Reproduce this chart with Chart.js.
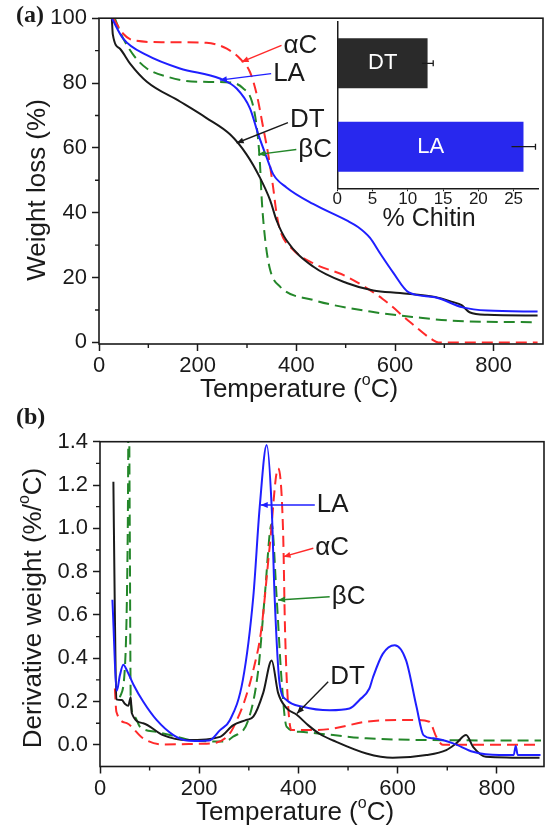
<!DOCTYPE html>
<html>
<head>
<meta charset="utf-8">
<script src="https://cdn.jsdelivr.net/npm/chart.js@4/dist/chart.umd.min.js"></script>
<style>
  body { margin: 0; background: #fff; }
  #wrap { position: relative; width: 546px; height: 828px; overflow: hidden; }
  canvas { position: absolute; }
</style>
</head>
<body>
<div id="wrap">
  <canvas id="tga" width="546" height="410" style="left:0;top:0"></canvas>
  <canvas id="dtg" width="546" height="428" style="left:0;top:400px"></canvas>
  <canvas id="inset" width="246" height="230" style="left:300px;top:10px"></canvas>
</div>
<script>
const FONT = "'Liberation Sans', Arial, sans-serif";
const INK = '#1a1a1a';
const BLUE = '#1f1fff', RED = '#ff2a2a', GREEN = '#24872a';

// (a) weight loss (%) vs temperature
const tgaLA_T = [26,49,97,164,245,279,306,323,340,353,380,434,502,525,549,570,596,628,681,737,787,889];
const tgaLA_W = [100,93.7,88.6,84.5,81.4,78.3,72.2,64.1,57,51.9,47.8,42.7,37.6,35.6,32.3,27.4,21.6,15.4,13.9,10.8,9.8,9.5];
const tgaDT_T = [26,28,43,63,97,164,218,266,299,326,347,360,380,434,502,556,610,681,716,735,751,787,889];
const tgaDT_W = [100,95,90.5,86,80.4,74.3,69.2,64.1,58,50.9,43.8,37.6,31.5,23.4,18.3,16,15.2,14,12.5,11.5,9.3,8.5,8.3];
const tgaAC_T = [29,49,69,130,218,259,286,306,320,333,343,353,360,367,394,434,502,575,631,674,688,889];
const tgaAC_W = [100,95.2,93.2,92.6,92.4,90.6,87.5,83.4,76.3,66.1,58,47.8,39.7,34.6,28.5,24.4,20.3,13.4,6.2,1,0,0];
const tgaBC_T = [32,46,70,97,137,198,265,292,310,320,326,330,337,347,367,434,550,645,716,889];
const tgaBC_W = [100,94.7,88.6,84.5,82,80.4,80.2,78.4,74.3,66.1,55.9,43.8,31.5,22.3,17.2,13.1,9.5,7.7,6.7,6.2];

// (b) derivative weight (%/oC) vs temperature
const dtgLA_T = [25,34,40,47,55,67,87,114,148,175,200,220,242,262,288,309,322,336,346,352,362,376,409,463,503,523,543,550,570,594,617,638,652,672,712,752,805,834,838,842,888];
const dtgLA_D = [0.67,0.25,0.32,0.37,0.34,0.28,0.2,0.115,0.045,0.02,0.018,0.02,0.068,0.115,0.3,0.684,1.1,1.385,1.1,0.684,0.284,0.207,0.176,0.16,0.168,0.207,0.26,0.31,0.42,0.46,0.39,0.176,0.045,0.03,0.007,-0.032,-0.047,-0.047,-0.005,-0.047,-0.047];
const dtgDT_T = [27,30,33,44,50,57,62,64,87,127,175,242,268,295,309,329,346,359,376,396,420,443,470,537,590,658,698,718,738,752,778,886];
const dtgDT_D = [1.215,0.6,0.21,0.207,0.19,0.18,0.22,0.147,0.1,0.045,0.022,0.037,0.09,0.115,0.13,0.24,0.39,0.24,0.17,0.14,0.09,0.05,0.02,-0.04,-0.06,-0.047,-0.024,0.007,0.045,-0.009,-0.055,-0.06];
const dtgAC_T = [30,33,54,87,127,200,234,262,276,291,309,325,342,359,369,373,379,386,423,470,537,631,664,678,691,889];
const dtgAC_D = [0.26,0.153,0.1,0.03,0.002,0.005,0.01,0.054,0.115,0.2,0.345,0.53,0.915,1.277,0.99,0.53,0.19,0.068,0.068,0.075,0.107,0.115,0.107,0.037,0,0];
const dtgBC_T = [40,50,56,58,60,62,70,80,114,150,180,250,268,299,319,332,346,356,366,376,403,470,537,671,889];
const dtgBC_D = [0.22,0.35,1.0,1.7,1.0,0.2,0.13,0.085,0.06,0.04,0.023,0.015,0.037,0.115,0.345,0.684,1.02,0.684,0.3,0.084,0.06,0.045,0.03,0.022,0.02];

// inset: % chitin
const insetCats = ['DT', 'LA'];
const insetChitin = [12.8, 26.4];
const insetErr = [0.8, 1.7];

// tick labels
const tempTicks = [0, 200, 400, 600, 800];
const tempMinor = [100, 300, 500, 700];
const weightTicks = [0, 20, 40, 60, 80, 100];
const weightMinor = [10, 30, 50, 70, 90];
const derivTicks = [0, 0.2, 0.4, 0.6, 0.8, 1.0, 1.2, 1.4];
const derivMinor = [0.1, 0.3, 0.5, 0.7, 0.9, 1.1, 1.3];
const chitinTicks = [0, 5, 10, 15, 20, 25];

const tempTitle = [{t: 'Temperature ('}, {t: 'o', sup: true}, {t: 'C)'}];
const weightTitle = [{t: 'Weight loss (%)'}];
const derivTitle = [{t: 'Derivative weight (%/'}, {t: 'o', sup: true}, {t: 'C)'}];

// labels with arrows: text at / arrow tip, in data units
const tgaNotes = [
  {text: '\u03b1C', at: [374, 91.6], tip: [289, 86.5], color: RED},
  {text: 'LA', at: [353, 82.9], tip: [245, 80.9], color: BLUE},
  {text: 'DT', at: [387, 68.7], tip: [279, 61.5], color: INK, dy: 3},
  {text: '\u03b2C', at: [404, 59.5], tip: [323, 58], color: GREEN}
];
const dtgNotes = [
  {text: 'LA', at: [437, 1.108], tip: [324, 1.108], color: BLUE},
  {text: '\u03b1C', at: [434, 0.908], tip: [370, 0.869], color: RED},
  {text: '\u03b2C', at: [467, 0.684], tip: [359, 0.669], color: GREEN},
  {text: 'DT', at: [464, 0.315], tip: [397, 0.145], color: INK, dy: 5}
];

const pts = (xs, ys) => xs.map((x, i) => ({x: x, y: ys[i]}));

function drawParts(ctx, parts, cx, cy, size, rot) {
  ctx.save();
  ctx.translate(cx, cy);
  if (rot) ctx.rotate(-Math.PI / 2);
  const main = size + 'px ' + FONT, sup = Math.round(size * 0.6) + 'px ' + FONT;
  let w = 0;
  parts.forEach(p => { ctx.font = p.sup ? sup : main; w += ctx.measureText(p.t).width; });
  let xx = -w / 2;
  ctx.fillStyle = INK; ctx.textBaseline = 'middle'; ctx.textAlign = 'left';
  parts.forEach(p => {
    ctx.font = p.sup ? sup : main;
    ctx.fillText(p.t, xx, p.sup ? -size * 0.38 : 0);
    xx += ctx.measureText(p.t).width;
  });
  ctx.restore();
}

// frame, minor ticks, titles, panel letter
const decor = {
  id: 'decor',
  afterDraw(chart, args, o) {
    const {ctx, chartArea: a, scales: {x, y}} = chart;
    ctx.save();
    ctx.strokeStyle = INK;
    ctx.lineWidth = 1.6;
    ctx.strokeRect(a.left, a.top, a.right - a.left, a.bottom - a.top);
    ctx.lineWidth = 1.4;
    ctx.beginPath();
    o.xMinor.forEach(v => { const p = x.getPixelForValue(v); ctx.moveTo(p, a.bottom); ctx.lineTo(p, a.bottom + 4); });
    o.yMinor.forEach(v => { const p = y.getPixelForValue(v); ctx.moveTo(a.left, p); ctx.lineTo(a.left - 4, p); });
    ctx.stroke();
    drawParts(ctx, o.xTitle, o.xTitlePos[0], o.xTitlePos[1], 26, false);
    drawParts(ctx, o.yTitle, o.yTitlePos[0], o.yTitlePos[1], 26, true);
    ctx.font = "bold 24px 'Liberation Serif', 'Times New Roman', serif";
    ctx.fillStyle = INK; ctx.textAlign = 'left'; ctx.textBaseline = 'middle';
    ctx.fillText(o.panel, o.panelPos[0], o.panelPos[1]);
    ctx.restore();
  }
};

const notes = {
  id: 'notes',
  afterDatasetsDraw(chart, args, o) {
    const {ctx, scales: {x, y}} = chart;
    ctx.save();
    o.items.forEach(n => {
      const tx = x.getPixelForValue(n.at[0]), ty = y.getPixelForValue(n.at[1]);
      const px = x.getPixelForValue(n.tip[0]), py = y.getPixelForValue(n.tip[1]);
      ctx.font = '26px ' + FONT; ctx.fillStyle = INK;
      ctx.textAlign = 'left'; ctx.textBaseline = 'middle';
      ctx.fillText(n.text, tx, ty);
      const sx = tx - 2, sy = ty + (n.dy || 0);
      ctx.strokeStyle = n.color; ctx.lineWidth = 1.4;
      ctx.beginPath(); ctx.moveTo(sx, sy); ctx.lineTo(px, py); ctx.stroke();
      const ang = Math.atan2(py - sy, px - sx), c = Math.cos(ang), s = Math.sin(ang);
      ctx.fillStyle = n.color;
      ctx.beginPath();
      ctx.moveTo(px, py);
      ctx.lineTo(px - 7 * c + 3 * s, py - 7 * s - 3 * c);
      ctx.lineTo(px - 7 * c - 3 * s, py - 7 * s + 3 * c);
      ctx.closePath(); ctx.fill();
    });
    ctx.restore();
  }
};

function line(label, data, color, dashed) {
  return {
    label: label, data: data, borderColor: color, borderWidth: 2,
    borderDash: dashed ? [11, 6] : [], pointRadius: 0,
    cubicInterpolationMode: 'monotone', fill: false
  };
}

function axes(xMax, yMin, yMax, yTicks, yFmt, yWidth, xHeight) {
  const tickFont = {family: FONT, size: 22};
  return {
    x: {
      type: 'linear', min: 0, max: xMax,
      afterBuildTicks: s => { s.ticks = tempTicks.map(v => ({value: v})); },
      afterFit: s => { s.height = xHeight; },
      grid: {drawOnChartArea: false, drawTicks: true, tickLength: 7, tickColor: INK, tickWidth: 1.5},
      border: {display: false},
      ticks: {font: tickFont, color: INK, padding: 2, maxRotation: 0, autoSkip: false}
    },
    y: {
      type: 'linear', min: yMin, max: yMax,
      afterBuildTicks: s => { s.ticks = yTicks.map(v => ({value: v})); },
      afterFit: s => { s.width = yWidth; },
      grid: {drawOnChartArea: false, drawTicks: true, tickLength: 7, tickColor: INK, tickWidth: 1.5},
      border: {display: false},
      ticks: {font: tickFont, color: INK, padding: 5, callback: yFmt}
    }
  };
}

new Chart(document.getElementById('tga'), {
  type: 'line',
  data: {datasets: [
    line('LA', pts(tgaLA_T, tgaLA_W), BLUE, false),
    line('DT', pts(tgaDT_T, tgaDT_W), INK, false),
    line('\u03b1C', pts(tgaAC_T, tgaAC_W), RED, true),
    line('\u03b2C', pts(tgaBC_T, tgaBC_W), GREEN, true)
  ]},
  options: {
    responsive: false, animation: false, devicePixelRatio: 1, events: [],
    layout: {padding: {left: 0, right: 3, top: 16, bottom: 0}},
    scales: axes(900, -0.5, 100, weightTicks, v => String(v), 99, 66),
    plugins: {
      legend: {display: false}, tooltip: {enabled: false},
      decor: {xMinor: tempMinor, yMinor: weightMinor, xTitle: tempTitle, xTitlePos: [299, 390],
              yTitle: weightTitle, yTitlePos: [38, 190], panel: '(a)', panelPos: [16, 16]},
      notes: {items: tgaNotes}
    }
  },
  plugins: [decor, notes]
});

new Chart(document.getElementById('dtg'), {
  type: 'line',
  data: {datasets: [
    line('LA', pts(dtgLA_T, dtgLA_D), BLUE, false),
    line('DT', pts(dtgDT_T, dtgDT_D), INK, false),
    line('\u03b1C', pts(dtgAC_T, dtgAC_D), RED, true),
    line('\u03b2C', pts(dtgBC_T, dtgBC_D), GREEN, true)
  ]},
  options: {
    responsive: false, animation: false, devicePixelRatio: 1, events: [],
    layout: {padding: {left: 0, right: 2, top: 41.7, bottom: 0}},
    scales: axes(895, -0.1, 1.4, derivTicks, v => v.toFixed(1), 100, 61.5),
    plugins: {
      legend: {display: false}, tooltip: {enabled: false},
      decor: {xMinor: tempMinor, yMinor: derivMinor, xTitle: tempTitle, xTitlePos: [295, 413],
              yTitle: derivTitle, yTitlePos: [34, 208], panel: '(b)', panelPos: [16, 18]},
      notes: {items: dtgNotes}
    }
  },
  plugins: [decor, notes]
});

const errBars = {
  id: 'errBars',
  afterDatasetsDraw(chart) {
    const {ctx, scales: {x}} = chart;
    ctx.save();
    chart.getDatasetMeta(0).data.forEach((bar, i) => {
      const x1 = x.getPixelForValue(insetChitin[i] - insetErr[i]);
      const x2 = x.getPixelForValue(insetChitin[i] + insetErr[i]);
      ctx.strokeStyle = INK; ctx.lineWidth = 1.3;
      ctx.beginPath();
      ctx.moveTo(x1, bar.y); ctx.lineTo(x2, bar.y);
      ctx.moveTo(x2, bar.y - 3); ctx.lineTo(x2, bar.y + 3);
      ctx.stroke();
      ctx.fillStyle = '#fff'; ctx.font = '22px ' + FONT;
      ctx.textAlign = 'center'; ctx.textBaseline = 'middle';
      ctx.fillText(insetCats[i], (bar.base + bar.x) / 2, bar.y);
    });
    ctx.fillStyle = INK; ctx.font = '25px ' + FONT;
    ctx.textAlign = 'center'; ctx.textBaseline = 'middle';
    ctx.fillText('% Chitin', 129, 209);
    ctx.restore();
  }
};

new Chart(document.getElementById('inset'), {
  type: 'bar',
  data: {
    labels: insetCats,
    datasets: [{data: insetChitin, backgroundColor: ['#2a2a2a', '#2828ee'],
                categoryPercentage: 0.6, barPercentage: 1}]
  },
  options: {
    indexAxis: 'y', responsive: false, animation: false, devicePixelRatio: 1, events: [],
    layout: {padding: {left: 0, right: 7.7, top: 11.7, bottom: 0}},
    scales: {
      x: {
        type: 'linear', min: 0, max: 28.5,
        afterBuildTicks: s => { s.ticks = chitinTicks.map(v => ({value: v})); },
        afterFit: s => { s.height = 51.7; },
        grid: {drawOnChartArea: false, drawTicks: true, tickLength: 3, tickColor: INK},
        border: {display: true, color: INK, width: 1.5},
        ticks: {font: {family: FONT, size: 17, lineHeight: 1}, color: INK, padding: 0, maxRotation: 0, autoSkip: false}
      },
      y: {
        afterFit: s => { s.width = 37.3; },
        grid: {display: false},
        border: {display: true, color: INK, width: 1.5},
        ticks: {display: false}
      }
    },
    plugins: {legend: {display: false}, tooltip: {enabled: false}}
  },
  plugins: [errBars]
});
</script>
</body>
</html>
